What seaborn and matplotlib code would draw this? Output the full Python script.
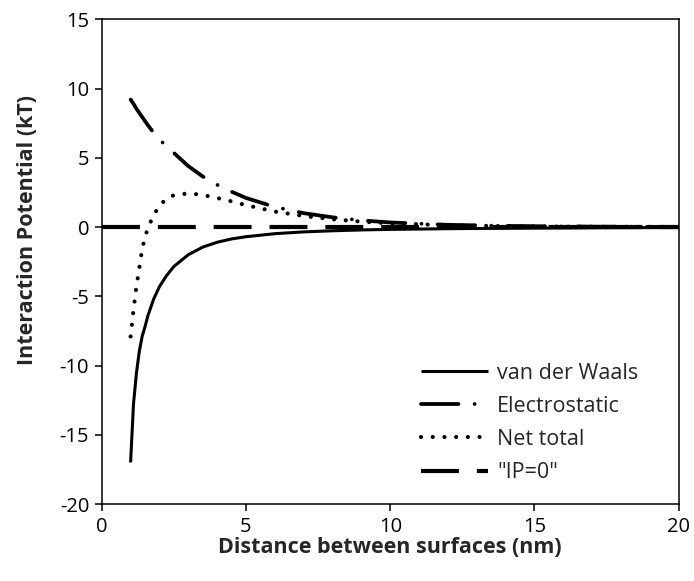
import matplotlib
matplotlib.use("Agg")
import matplotlib.pyplot as plt
import seaborn as sns
import pandas as pd

# Distance between surfaces (nm)
distance = [1.0, 1.1, 1.2, 1.3, 1.4, 1.5, 1.6, 1.8, 2.0, 2.25, 2.5, 3.0, 3.5, 4.0,
            4.5, 5.0, 6.0, 7.0, 8.0, 9.0, 10.0, 12.0, 14.0, 16.0, 18.0, 20.0]
van_der_waals = [-17.0, -12.8, -10.6, -9.0, -7.9, -7.2, -6.4, -5.2, -4.3, -3.5, -2.85,
                 -2.0, -1.45, -1.1, -0.86, -0.7, -0.48, -0.35, -0.27, -0.21, -0.17,
                 -0.12, -0.09, -0.07, -0.05, -0.04]
electrostatic = [9.2, 8.9, 8.55, 8.25, 7.95, 7.65, 7.35, 6.8, 6.3, 5.85, 5.35, 4.4,
                 3.65, 3.05, 2.55, 2.1, 1.45, 1.0, 0.7, 0.48, 0.33, 0.16, 0.08, 0.04,
                 0.02, 0.01]
net_total = [-7.9, -6.0, -4.3, -3.0, -1.6, -0.75, -0.05, 0.85, 1.55, 2.05, 2.3, 2.43,
             2.32, 2.1, 1.85, 1.58, 1.12, 0.8, 0.56, 0.39, 0.27, 0.13, 0.06, 0.03,
             0.02, 0.01]
ip_zero_x = [0.0, 20.0]
ip_zero_y = [0.0, 0.0]

series_labels = ["van der Waals", "Electrostatic", "Net total", '"IP=0"']
x_ticks = [0, 5, 10, 15, 20]
y_ticks = [-20, -15, -10, -5, 0, 5, 10, 15]

sns.set_style("white")
plt.rcParams["font.family"] = ["Open Sans", "DejaVu Sans"]
plt.rcParams["axes.unicode_minus"] = False

fig = plt.figure(figsize=(6.94, 5.81), dpi=100)
ax = fig.add_axes([0.1466, 0.1325, 0.8314, 0.8343])

df_vdw = pd.DataFrame({"x": distance, "y": van_der_waals})
df_el = pd.DataFrame({"x": distance, "y": electrostatic})
df_net = pd.DataFrame({"x": distance, "y": net_total})
df_ip = pd.DataFrame({"x": ip_zero_x, "y": ip_zero_y})

sns.lineplot(data=df_vdw, x="x", y="y", ax=ax, color="black", lw=2.2,
             label=series_labels[0], solid_capstyle="butt")
sns.lineplot(data=df_el, x="x", y="y", ax=ax, color="black", lw=2.7,
             linestyle=(0, (10.0, 4.3, 0.01, 4.3)), dash_capstyle="round",
             label=series_labels[1])
sns.lineplot(data=df_net, x="x", y="y", ax=ax, color="black", lw=3.0,
             linestyle=(0, (0.01, 2.8)), dash_capstyle="round",
             label=series_labels[2])
sns.lineplot(data=df_ip, x="x", y="y", ax=ax, color="black", lw=3.0,
             linestyle=(0, (9.1, 4.3)), dash_capstyle="butt",
             label=series_labels[3])

ax.set_xlim(0, 20)
ax.set_ylim(-20, 15)
ax.set_xticks(x_ticks)
ax.set_yticks(y_ticks)
ax.tick_params(axis="both", which="major", direction="out", length=5, width=1.1,
               labelsize=14.5, colors="black", left=True, bottom=True, pad=4)
for side in ["left", "right", "top", "bottom"]:
    ax.spines[side].set_visible(True)
    ax.spines[side].set_color("black")
    ax.spines[side].set_linewidth(1.1)

ax.set_xlabel("Distance between surfaces (nm)", fontsize=15.5, fontweight="bold",
              labelpad=0)
ax.set_ylabel("Interaction Potential (kT)", fontsize=15.5, fontweight="bold")
ax.yaxis.set_label_coords(-0.11, 0.565)

ax.legend(loc="lower left", bbox_to_anchor=(0.5535, 0.043), frameon=False,
          fontsize=15.5, handlelength=3.1, handletextpad=0.42, borderpad=0,
          borderaxespad=0, labelspacing=0.565)

fig.savefig("out.png", dpi=100)
